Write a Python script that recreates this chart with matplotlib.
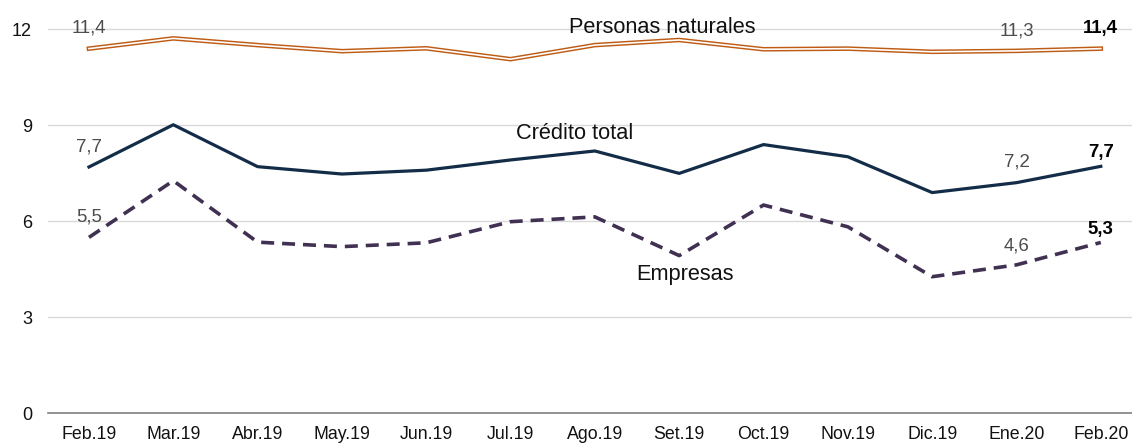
import matplotlib
matplotlib.use("Agg")
import matplotlib.pyplot as plt

plt.rcParams['font.family'] = ['Liberation Sans', 'DejaVu Sans']

months = ["Feb.19", "Mar.19", "Abr.19", "May.19", "Jun.19", "Jul.19", "Ago.19",
          "Set.19", "Oct.19", "Nov.19", "Dic.19", "Ene.20", "Feb.20"]
personas = [11.4, 11.72, 11.51, 11.32, 11.41, 11.07, 11.51, 11.67, 11.38, 11.40, 11.30, 11.33, 11.40]
credito = [7.7, 9.02, 7.71, 7.48, 7.60, 7.92, 8.20, 7.50, 8.40, 8.02, 6.90, 7.21, 7.72]
empresas = [5.5, 7.27, 5.35, 5.21, 5.33, 5.99, 6.14, 4.93, 6.51, 5.83, 4.27, 4.64, 5.34]
yticks = [0, 3, 6, 9, 12]

W, H = 1132, 444
fig = plt.figure(figsize=(W / 100, H / 100), dpi=100)
ax = fig.add_axes([48 / W, (H - 413.3) / H, (W - 48) / W, 413.3 / H])

x = list(range(len(months)))
orange = "#BE5B14"
navy = "#132C47"
purple = "#403152"
gray = "#4D4D4D"

ax.plot(x, personas, color=orange, lw=3.3, solid_joinstyle='miter', zorder=3)
ax.plot(x, personas, color="white", lw=1.2, solid_joinstyle='miter', zorder=4)
ax.plot(x, credito, color=navy, lw=2.3, zorder=3)
ax.plot(x, empresas, color=purple, lw=2.6, dashes=(3.6, 2.2), zorder=3)

ax.set_xlim(-0.486, 12.37)
ax.set_ylim(0, 12.92)
ax.set_xticks(x)
ax.set_xticklabels(months, fontsize=12.8, color="#111111")
ax.set_yticks(yticks)
ax.set_yticklabels([str(v) for v in yticks], fontsize=13, color="#111111")
ax.tick_params(axis='both', length=0)
ax.tick_params(axis='x', pad=9.5)
ax.tick_params(axis='y', pad=11.5)
ax.grid(axis='y', color="#D9D9D9", lw=1.0)
ax.set_axisbelow(True)
for s in ['top', 'right', 'left']:
    ax.spines[s].set_visible(False)
ax.spines['bottom'].set_color("#808080")
ax.spines['bottom'].set_linewidth(1.2)
ax.spines['bottom'].set_zorder(5)

# series labels
ax.text(6.8, 11.88, "Personas naturales", fontsize=15.7, ha='center', va='baseline', color="#111111")
ax.text(5.76, 8.56, "Crédito total", fontsize=15.7, ha='center', va='baseline', color="#111111")
ax.text(7.07, 4.17, "Empresas", fontsize=15.7, ha='center', va='baseline', color="#111111")

# data labels
fs = 13.4
def lab(i, y, v, bold=False):
    ax.text(i, y, v, fontsize=fs, ha='center', va='baseline',
            color="#000000" if bold else gray,
            fontweight='bold' if bold else 'normal', clip_on=False)

lab(0, 11.9, f"{personas[0]:.1f}".replace('.', ','))
lab(0, 8.18, f"{credito[0]:.1f}".replace('.', ','))
lab(0, 5.99, f"{empresas[0]:.1f}".replace('.', ','))
lab(11, 11.82, "11,3")
lab(11, 7.71, "7,2")
lab(11, 5.08, "4,6")
lab(12, 11.9, "11,4", True)
lab(12, 8.02, "7,7", True)
lab(12, 5.62, "5,3", True)

fig.savefig("out.png", dpi=100)
